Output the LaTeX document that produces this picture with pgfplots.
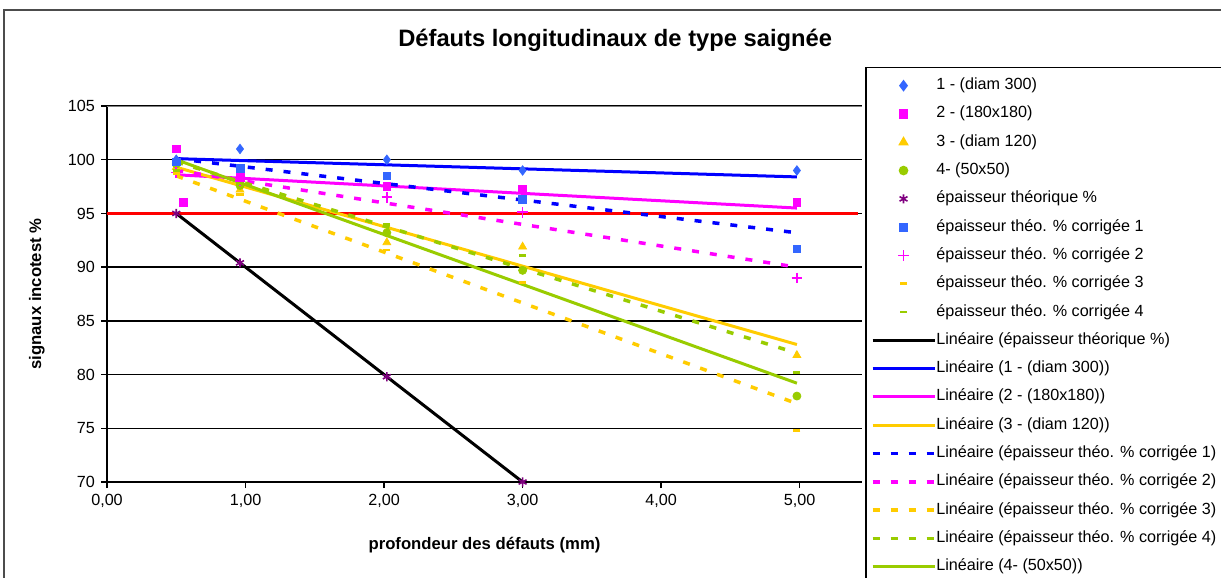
\documentclass[border=0pt]{standalone}
\usepackage{fontspec}
\setmainfont{Liberation Sans}
\usepackage{pgfplots}
\pgfplotsset{compat=1.18}
\definecolor{ptblue}{HTML}{3366FF}
\definecolor{trblue}{HTML}{0000FF}
\definecolor{mag}{HTML}{FF00FF}
\definecolor{yel}{HTML}{FFCC00}
\definecolor{grn}{HTML}{99CC00}
\definecolor{pur}{HTML}{800080}
\pgfplotsset{
  legline/.style={legend image code/.code={\draw[##1] (0cm,0cm) -- (1.24cm,0cm);}},
  legmark/.style={legend image code/.code={\draw[##1] plot coordinates {(0.62cm,0cm)};}},
  pts/.style={only marks, legmark},
  trend/.style={no marks, line width=0.06cm, legline},
  dots/.style={no marks, line width=0.07cm, dash pattern=on 0.14cm off 0.22cm, legline},
}
\begin{document}
\begin{tikzpicture}
\clip (0,0) rectangle (24.42cm,-11.54cm);
\fill[white] (0,0) rectangle (24.42cm,-11.54cm);
\begin{scope}[x=0.02cm,y=-0.02cm]
  \draw[overlay, line width=0.04cm, black!70] (4,10) rectangle (1300,700);
  \node[font=\bfseries\fontsize{13.5}{16}\selectfont] at (615,40) {Défauts longitudinaux de type saignée};
\end{scope}
\begin{axis}[
  at={(2.14cm,-9.64cm)}, anchor=south west,
  scale only axis, width=15.1cm, height=7.52cm,
  xmin=0, xmax=5.45, ymin=70, ymax=105,
  axis x line*=bottom, axis y line*=left,
  axis line style={line width=0.03cm, -},
  xtick={0,1,2,3,4,5},
  xticklabels={{0,00},{1,00},{2,00},{3,00},{4,00},{5,00}},
  ytick={70,75,80,85,90,95,100,105},
  tick align=outside, major tick length=0.12cm,
  tick style={black, line width=0.03cm},
  ymajorgrids, grid style={black, line width=0.03cm},
  tick label style={font=\fontsize{9.2}{11}\selectfont},
  /pgf/number format/assume math mode=true,
  xlabel={profondeur des défauts (mm)},
  ylabel={signaux incotest \%},
  label style={font=\bfseries\fontsize{9.5}{11}\selectfont},
  xlabel style={at={(axis description cs:0.5,-0.168)}, anchor=center},
  ylabel style={at={(axis description cs:-0.093,0.5)}, anchor=center},
  legend cell align=left,
  legend style={overlay, at={(1.004,1.104)}, anchor=north west, draw=black,
    line width=0.03cm, fill=white, font=\fontsize{9.2}{11}\selectfont,
    inner xsep=0.1cm, inner ysep=0.2cm, row sep=0.246cm,
    nodes={inner sep=0pt, text height=0.24cm, text depth=0.08cm, anchor=west}},
]
% plot area top border (grey)
\draw[gray, line width=0.03cm] (axis cs:0,105) -- (axis cs:5.45,105);
% red reference line at 95
\addplot[red, line width=0.06cm, forget plot] coordinates {(0,95) (5.42,95)};
% measured points
\addplot[pts, mark=diamond*, mark size=2.7pt, color=ptblue] coordinates {
  (0.5,100) (0.96,101) (2.02,100) (3.0,99) (4.98,99)};
\addlegendentry{1 - (diam 300)}
\addplot[pts, mark=square*, mark size=2.2pt, color=mag] coordinates {
  (0.5,101) (0.55,96) (0.96,98.5) (2.02,97.5) (3.0,97.3) (4.98,96)};
\addlegendentry{2 - (180x180)}
\addplot[pts, mark=triangle*, mark size=2.6pt, color=yel] coordinates {
  (0.5,99.3) (0.96,97.2) (2.02,92.3) (3.0,91.9) (4.98,81.8)};
\addlegendentry{3 - (diam 120)}
\addplot[pts, mark=*, mark size=2.3pt, color=grn] coordinates {
  (0.5,99.6) (0.96,97.6) (2.02,93.2) (3.0,89.7) (4.98,78.0)};
\addlegendentry{4- (50x50)}
\addplot[pts, mark=asterisk, mark size=2.6pt, color=pur, line width=0.9pt] coordinates {
  (0.5,95) (0.96,90.4) (2.02,79.8) (3.0,70)};
\addlegendentry{épaisseur théorique \%}
\addplot[pts, mark=square*, mark size=2.2pt, color=ptblue] coordinates {
  (0.5,99.8) (0.96,99.2) (2.02,98.5) (3.0,96.3) (4.98,91.7)};
\addlegendentry{épaisseur théo. \% corrigée 1}
\addplot[pts, mark=+, mark size=3pt, color=mag, line width=1pt,
  mark options={draw=mag, line width=1pt}] coordinates {
  (0.5,98.8) (0.96,98.0) (2.02,96.5) (3.0,95.1) (4.98,89.0)};
\addlegendentry{épaisseur théo. \% corrigée 2}
\addplot[pts, mark=-, mark size=2pt, color=yel, line width=1.6pt] coordinates {
  (0.5,98.7) (0.96,96.8) (2.02,91.6) (3.0,88.6) (4.98,74.8)};
\addlegendentry{épaisseur théo. \% corrigée 3}
\addplot[pts, mark=-, mark size=2pt, color=grn, line width=1.6pt] coordinates {
  (0.5,99.0) (0.96,97.8) (2.02,94.0) (3.0,91.1) (4.98,80.2)};
\addlegendentry{épaisseur théo. \% corrigée 4}
% linear trend lines
\addplot[trend, black] coordinates {(0.5,95) (3.0,70)};
\addlegendentry{Linéaire (épaisseur théorique \%)}
\addplot[trend, trblue] coordinates {(0.5,100.1) (4.98,98.4)};
\addlegendentry{Linéaire (1 - (diam 300))}
\addplot[trend, mag] coordinates {(0.5,98.6) (4.98,95.5)};
\addlegendentry{Linéaire (2 - (180x180))}
\addplot[trend, yel] coordinates {(0.5,99.3) (4.98,82.8)};
\addlegendentry{Linéaire (3 - (diam 120))}
\addplot[dots, trblue] coordinates {(0.5,100.1) (4.98,93.2)};
\addlegendentry{Linéaire (épaisseur théo. \% corrigée 1)}
\addplot[dots, mag] coordinates {(0.5,99.0) (4.98,90.0)};
\addlegendentry{Linéaire (épaisseur théo. \% corrigée 2)}
\addplot[dots, yel] coordinates {(0.5,98.5) (4.98,77.3)};
\addlegendentry{Linéaire (épaisseur théo. \% corrigée 3)}
\addplot[dots, grn] coordinates {(0.5,99.8) (4.98,82.0)};
\addlegendentry{Linéaire (épaisseur théo. \% corrigée 4)}
\addplot[trend, grn] coordinates {(0.5,100.0) (4.98,79.2)};
\addlegendentry{Linéaire (4- (50x50))}
\end{axis}
\end{tikzpicture}
\end{document}
